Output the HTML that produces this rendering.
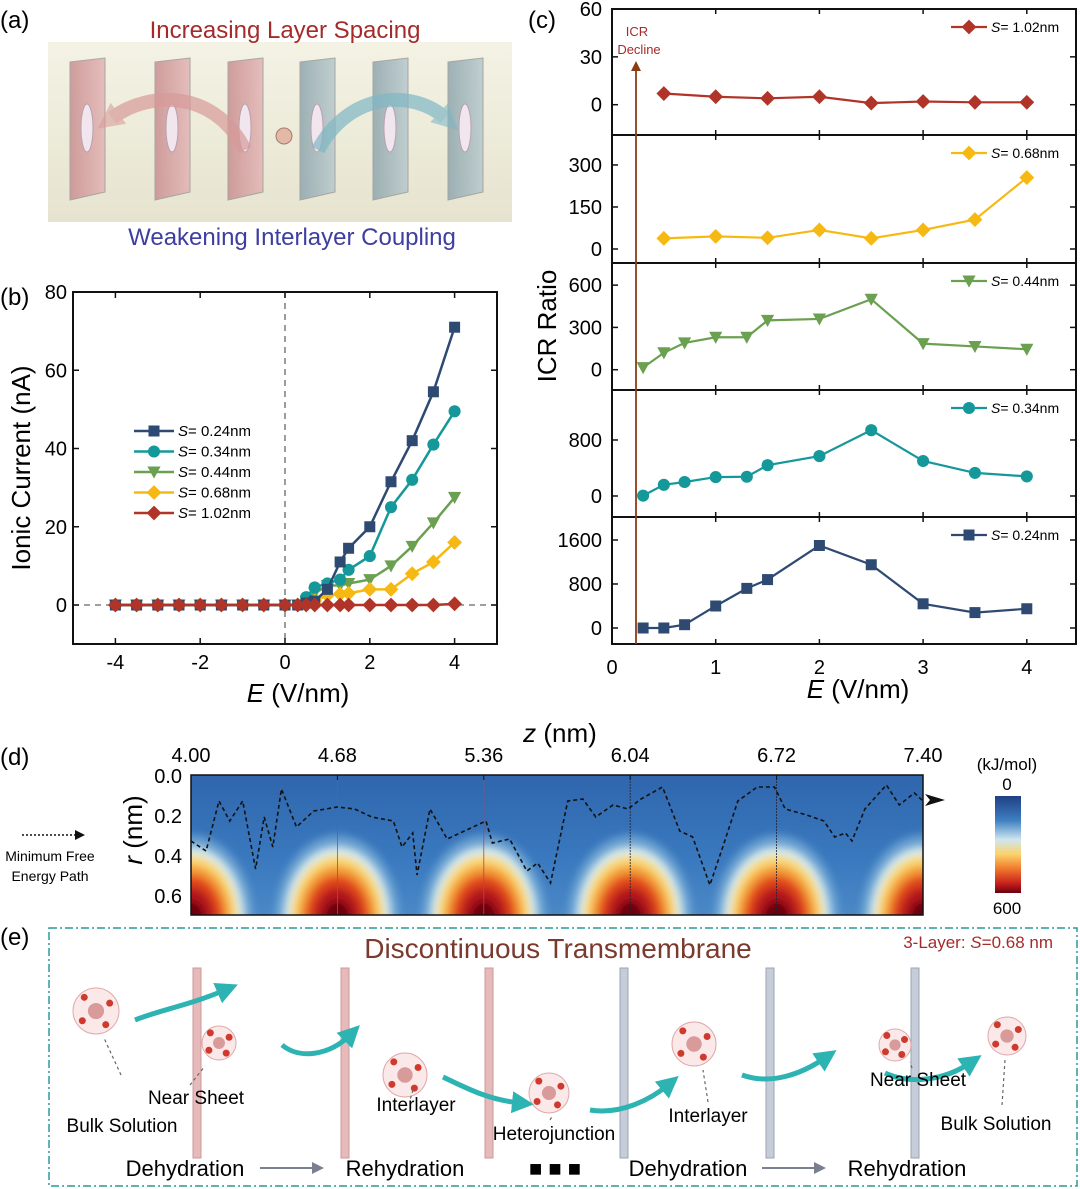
<!DOCTYPE html>
<html><head><meta charset="utf-8"><style>
body{margin:0;background:#fff;}
svg{display:block;font-family:"Liberation Sans",sans-serif;}
</style></head><body>
<svg id="fig" width="1080" height="1189" viewBox="0 0 1080 1189" xmlns="http://www.w3.org/2000/svg">
<defs>
<linearGradient id="bgA" x1="0" y1="0" x2="0" y2="1"><stop offset="0" stop-color="#f4f2e4"/><stop offset="1" stop-color="#e6e4cf"/></linearGradient>
<linearGradient id="pinkP" x1="0" y1="0" x2="1" y2="0"><stop offset="0" stop-color="#c98f90"/><stop offset="1" stop-color="#e3b5b5"/></linearGradient>
<linearGradient id="blueP" x1="0" y1="0" x2="1" y2="0"><stop offset="0" stop-color="#8fa6ad"/><stop offset="1" stop-color="#b8c9cd"/></linearGradient>
<linearGradient id="heatBg" x1="0" y1="0" x2="0" y2="1"><stop offset="0" stop-color="#2f66ad"/><stop offset="0.6" stop-color="#3a79bf"/><stop offset="1" stop-color="#4a88c6"/></linearGradient>
<linearGradient id="cbar" x1="0" y1="0" x2="0" y2="1"><stop offset="0" stop-color="#1f3f85"/><stop offset="0.25" stop-color="#3d7fc0"/><stop offset="0.45" stop-color="#cfe6f0"/><stop offset="0.6" stop-color="#fbd36a"/><stop offset="0.75" stop-color="#f0792c"/><stop offset="0.9" stop-color="#c8211c"/><stop offset="1" stop-color="#6b0010"/></linearGradient>
<filter id="soft" x="-30%" y="-30%" width="160%" height="160%"><feGaussianBlur stdDeviation="4"/></filter>
<clipPath id="hclip"><rect x="191" y="775" width="732" height="140"/></clipPath>
<marker id="arrHead" markerUnits="userSpaceOnUse" markerWidth="10" markerHeight="10" refX="5" refY="5" orient="auto"><path d="M0,0 L10,5 L0,10 Z" fill="#111"/></marker>
<marker id="brownHead" markerUnits="userSpaceOnUse" markerWidth="10" markerHeight="10" refX="5" refY="5" orient="auto"><path d="M0,0 L10,5 L0,10 Z" fill="#8a3d12"/></marker>
<marker id="greyHead" markerUnits="userSpaceOnUse" markerWidth="12" markerHeight="12" refX="6" refY="6" orient="auto"><path d="M0,0 L12,6 L0,12 Z" fill="#7a8090"/></marker>
<marker id="tealHead" markerUnits="userSpaceOnUse" markerWidth="22" markerHeight="22" refX="8" refY="11" orient="auto"><path d="M0,0 L22,11 L0,22 Z" fill="#2eb3b3"/></marker>
<marker id="pinkHead" markerUnits="userSpaceOnUse" markerWidth="26" markerHeight="26" refX="8" refY="13" orient="auto"><path d="M0,0 L26,13 L0,26 Z" fill="#d89a9a" opacity="0.8"/></marker>
<marker id="blueHead" markerUnits="userSpaceOnUse" markerWidth="26" markerHeight="26" refX="8" refY="13" orient="auto"><path d="M0,0 L26,13 L0,26 Z" fill="#7fb7c4" opacity="0.8"/></marker>
</defs>

<text x="0" y="28" font-size="24">(a)</text>
<text x="0" y="305" font-size="24">(b)</text>
<text x="528" y="28" font-size="24">(c)</text>
<text x="0" y="765" font-size="24">(d)</text>
<text x="0" y="945" font-size="24">(e)</text>

<g>
<rect x="48" y="42" width="464" height="180" fill="url(#bgA)"/>
<g id="sheetsA"></g>
<path d="M245,150 C215,90 150,90 112,118" fill="none" stroke="#d89a9a" stroke-width="14" opacity="0.7" marker-end="url(#pinkHead)"/>
<path d="M318,150 C350,90 415,90 445,118" fill="none" stroke="#7fb7c4" stroke-width="14" opacity="0.7" marker-end="url(#blueHead)"/>
<circle cx="284" cy="136" r="8" fill="#e3b8a6" stroke="#a87a6c"/>
<text x="285" y="38" font-size="24" fill="#a52b2b" text-anchor="middle">Increasing Layer Spacing</text>
<text x="292" y="245" font-size="24" fill="#3e3ea0" text-anchor="middle">Weakening Interlayer Coupling</text>
</g>

<g id="panelB"></g>
<g id="panelC"></g>
<g id="panelD"></g>

<g>
<rect x="49" y="928" width="1028" height="258" fill="none" stroke="#2a9a9a" stroke-width="1.5" stroke-dasharray="8,3,2,3"/>
<text x="558" y="958" font-size="28" fill="#7a3a2e" text-anchor="middle">Discontinuous Transmembrane</text>
<text x="1053" y="948" font-size="17" fill="#a52b2b" text-anchor="end">3-Layer: <tspan font-style="italic">S</tspan>=0.68 nm</text>
<g id="sheetsE"></g>
<text x="122" y="1132" font-size="19" text-anchor="middle">Bulk Solution</text>
<text x="196" y="1104" font-size="19" text-anchor="middle">Near Sheet</text>
<text x="416" y="1111" font-size="19" text-anchor="middle">Interlayer</text>
<text x="554" y="1140" font-size="19" text-anchor="middle">Heterojunction</text>
<text x="708" y="1122" font-size="19" text-anchor="middle">Interlayer</text>
<text x="918" y="1086" font-size="19" text-anchor="middle">Near Sheet</text>
<text x="996" y="1130" font-size="19" text-anchor="middle">Bulk Solution</text>
<text x="185" y="1176" font-size="22" text-anchor="middle">Dehydration</text>
<line x1="260" y1="1168" x2="318" y2="1168" stroke="#7a8090" stroke-width="2" marker-end="url(#greyHead)"/>
<text x="405" y="1176" font-size="22" text-anchor="middle">Rehydration</text>
<text x="555" y="1176" font-size="22" text-anchor="middle" font-weight="bold">■ ■ ■</text>
<text x="688" y="1176" font-size="22" text-anchor="middle">Dehydration</text>
<line x1="762" y1="1168" x2="820" y2="1168" stroke="#7a8090" stroke-width="2" marker-end="url(#greyHead)"/>
<text x="907" y="1176" font-size="22" text-anchor="middle">Rehydration</text>
</g>
</svg>
<script>
const NS='http://www.w3.org/2000/svg';
function mk(tag,attrs,parent){const e=document.createElementNS(NS,tag);for(const k in attrs)e.setAttribute(k,attrs[k]);parent.appendChild(e);return e;}

// ===== Panel b data =====
const bX=[-4,-3.5,-3,-2.5,-2,-1.5,-1,-0.5,0,0.3,0.5,0.7,1,1.3,1.5,2,2.5,3,3.5,4];
const bS024=[0,0,0,0,0,0,0,0,0,0,0.5,1,4,11,14.5,20,31.5,42,54.5,71];
const bS034=[0,0,0,0,0,0,0,0,0,0,2,4.5,5.5,6.5,9,12.5,25,32,41,49.5];
const bS044=[0,0,0,0,0,0,0,0,0,0,1,3,5,5,5.5,6.5,10,15,21,27.5];
const bS068=[0,0,0,0,0,0,0,0,0,0,1,1,2.5,2.8,3,4,4,8,11,16];
const bS102=[0,0,0,0,0,0,0,0,0,0,0,0,0,0,0,0,0,0,0,0.3];
const bXTicks=[-4,-2,0,2,4];
const bYTicks=[0,20,40,60,80];
const bNames=['S= 0.24nm','S= 0.34nm','S= 0.44nm','S= 0.68nm','S= 1.02nm'];

// ===== Panel c data =====
const cX8=[0.5,1,1.5,2,2.5,3,3.5,4];
const cX11=[0.3,0.5,0.7,1,1.3,1.5,2,2.5,3,3.5,4];
const c102=[7,5,4,5,1,2,1.5,1.5];
const c068=[38,45,40,68,38,68,105,255];
const c044=[15,120,190,230,230,350,360,500,185,165,145];
const c034=[5,160,200,270,275,440,570,940,500,330,280];
const c024=[0,0,60,400,720,880,1500,1150,440,280,350];
const cXTicks=[0,1,2,3,4];

// ===== Panel d data =====
const dZTicks=['4.00','4.68','5.36','6.04','6.72','7.40'];
const dRTicks=['0.0','0.2','0.4','0.6'];
const pathZ=[4.00,4.07,4.13,4.18,4.24,4.30,4.34,4.38,4.42,4.49,4.57,4.68,4.76,4.84,4.94,4.98,5.03,5.05,5.11,5.19,5.29,5.37,5.40,5.48,5.56,5.61,5.67,5.75,5.82,5.88,5.96,6.03,6.09,6.19,6.27,6.33,6.41,6.47,6.54,6.63,6.71,6.76,6.86,6.94,6.99,7.04,7.07,7.13,7.23,7.29,7.36,7.40];
const pathR=[0.33,0.38,0.13,0.23,0.13,0.47,0.21,0.36,0.07,0.26,0.18,0.16,0.17,0.21,0.23,0.36,0.29,0.50,0.17,0.32,0.27,0.23,0.34,0.32,0.48,0.44,0.54,0.13,0.12,0.21,0.15,0.17,0.12,0.06,0.28,0.31,0.55,0.36,0.13,0.06,0.06,0.17,0.20,0.23,0.31,0.29,0.33,0.17,0.05,0.15,0.09,0.13];

const colors={s024:'#2e4a72',s034:'#15989a',s044:'#6aa050',s068:'#f6b913',s102:'#b03428'};

function marker(g,shape,x,y,col,sz){
  let e;
  if(shape==='square'){e=mk('rect',{x:x-sz,y:y-sz,width:2*sz,height:2*sz,fill:col},g);}
  else if(shape==='circle'){e=mk('circle',{cx:x,cy:y,r:sz*1.1,fill:col},g);}
  else if(shape==='tri'){e=mk('path',{d:`M${x-sz*1.2},${y-sz} L${x+sz*1.2},${y-sz} L${x},${y+sz*1.2} Z`,fill:col},g);}
  else {e=mk('path',{d:`M${x},${y-sz*1.35} L${x+sz*1.35},${y} L${x},${y+sz*1.35} L${x-sz*1.35},${y} Z`,fill:col},g);}
  
  
  return e;
}

// ===== Panel b =====
(function(){
  const g=document.getElementById('panelB');
  const L=73,R=497,T=292,B=644;
  const xs=v=>L+(v+5)/10*(R-L);
  const yS=v=>605-v*(605-292)/80;
  const fr=mk('rect',{x:L,y:T,width:R-L,height:B-T,fill:'none',stroke:'#111','stroke-width':2},g);
  
  const v0=mk('line',{x1:xs(0),y1:T,x2:xs(0),y2:B,stroke:'#666','stroke-dasharray':'6,5','stroke-width':1.3},g);
  
  const h0=mk('line',{x1:L,y1:yS(0),x2:R,y2:yS(0),stroke:'#666','stroke-dasharray':'6,5','stroke-width':1.3},g);
  
  bXTicks.forEach(t=>{
    mk('line',{x1:xs(t),y1:B,x2:xs(t),y2:B-6,stroke:'#111','stroke-width':1.5},g);
    mk('line',{x1:xs(t),y1:T,x2:xs(t),y2:T+6,stroke:'#111','stroke-width':1.5},g);
    const tx=mk('text',{x:xs(t),y:B+25,'font-size':20,'text-anchor':'middle'},g);tx.textContent=t;
    
  });
  bYTicks.forEach(t=>{
    mk('line',{x1:L,y1:yS(t),x2:L+6,y2:yS(t),stroke:'#111','stroke-width':1.5},g);
    mk('line',{x1:R,y1:yS(t),x2:R-6,y2:yS(t),stroke:'#111','stroke-width':1.5},g);
    const tx=mk('text',{x:L-6,y:yS(t)+7,'font-size':20,'text-anchor':'end'},g);tx.textContent=t;
    
  });
  const yt=mk('text',{x:0,y:0,'font-size':26,'text-anchor':'middle',transform:`translate(30,468) rotate(-90)`},g);yt.textContent='Ionic Current (nA)';
  
  const xt=mk('text',{x:298,y:702,'font-size':26,'text-anchor':'middle'},g);xt.innerHTML='<tspan font-style="italic">E</tspan> (V/nm)';
  
  const series=[[bS044,colors.s044,'tri'],[bS068,colors.s068,'diamond'],[bS034,colors.s034,'circle'],[bS024,colors.s024,'square'],[bS102,colors.s102,'diamond']];
  series.forEach(([ys_,col,sh])=>{
    const sg=mk('g',{},g);
    const pl=mk('polyline',{points:bX.map((x,i)=>xs(x)+','+yS(ys_[i])).join(' '),fill:'none',stroke:col,'stroke-width':2.5},sg);
    
    bX.forEach((x,i)=>marker(sg,sh,xs(x),yS(ys_[i]),col,5.5));
  });
  const lc=[colors.s024,colors.s034,colors.s044,colors.s068,colors.s102];
  const ls=['square','circle','tri','diamond','diamond'];
  const lg=mk('g',{},g);
  bNames.forEach((n,i)=>{
    const y=431+i*20.5;
    mk('line',{x1:134,y1:y,x2:174,y2:y,stroke:lc[i],'stroke-width':2.5},lg);
    marker(lg,ls[i],154,y,lc[i],5.5);
    const t=mk('text',{x:178,y:y+5,'font-size':15},lg);t.innerHTML='<tspan font-style="italic">S</tspan>'+n.slice(1);
    
  });
})();

// ===== Panel c =====
(function(){
  const g=document.getElementById('panelC');
  const L=612,R=1076;
  const xs=v=>L+v*103.7;
  const panels=[
    {top:9,bot:135,min:-19,max:60,ticks:[0,30,60],xv:cX8,yv:c102,col:colors.s102,sh:'diamond',name:'S= 1.02nm'},
    {top:135,bot:263,min:-50,max:407,ticks:[0,150,300],xv:cX8,yv:c068,col:colors.s068,sh:'diamond',name:'S= 0.68nm'},
    {top:263,bot:390,min:-144,max:757,ticks:[0,300,600],xv:cX11,yv:c044,col:colors.s044,sh:'tri',name:'S= 0.44nm'},
    {top:390,bot:517,min:-300,max:1514,ticks:[0,800],xv:cX11,yv:c034,col:colors.s034,sh:'circle',name:'S= 0.34nm'},
    {top:517,bot:644,min:-291,max:2018,ticks:[0,800,1600],xv:cX11,yv:c024,col:colors.s024,sh:'square',name:'S= 0.24nm'}
  ];
  panels.forEach((p,pi)=>{
    const sg=mk('g',{},g);
    const ys=v=>p.bot-(v-p.min)/(p.max-p.min)*(p.bot-p.top);
    mk('rect',{x:L,y:p.top,width:R-L,height:p.bot-p.top,fill:'none',stroke:'#111','stroke-width':2},sg);
    p.ticks.forEach(t=>{
      mk('line',{x1:L,y1:ys(t),x2:L+6,y2:ys(t),stroke:'#111','stroke-width':1.5},sg);
      mk('line',{x1:R,y1:ys(t),x2:R-6,y2:ys(t),stroke:'#111','stroke-width':1.5},sg);
      const tx=mk('text',{x:L-10,y:ys(t)+7,'font-size':20,'text-anchor':'end'},sg);tx.textContent=t;
      
    });
    cXTicks.forEach(t=>{mk('line',{x1:xs(t),y1:p.top,x2:xs(t),y2:p.top+5,stroke:'#111','stroke-width':1.5},sg);mk('line',{x1:xs(t),y1:p.bot,x2:xs(t),y2:p.bot-5,stroke:'#111','stroke-width':1.5},sg);});
    const pl=mk('polyline',{points:p.xv.map((x,i)=>xs(x)+','+ys(p.yv[i])).join(' '),fill:'none',stroke:p.col,'stroke-width':2.2},sg);
    
    p.xv.forEach((x,i)=>marker(sg,p.sh,xs(x),ys(p.yv[i]),p.col,5.5));
    const ly=p.top+18;
    mk('line',{x1:951,y1:ly,x2:987,y2:ly,stroke:p.col,'stroke-width':2.2},sg);
    marker(sg,p.sh,969,ly,p.col,5.5);
    const lt=mk('text',{x:991,y:ly+5,'font-size':14},sg);lt.innerHTML='<tspan font-style="italic">S</tspan>'+p.name.slice(1);
    
  });
  cXTicks.forEach(t=>{
    const tx=mk('text',{x:xs(t),y:674,'font-size':20,'text-anchor':'middle'},g);tx.textContent=t;
    
  });
  const xt=mk('text',{x:858,y:698,'font-size':26,'text-anchor':'middle'},g);xt.innerHTML='<tspan font-style="italic">E</tspan> (V/nm)';
  
  const yt=mk('text',{x:0,y:0,'font-size':26,'text-anchor':'middle',transform:'translate(556,326) rotate(-90)'},g);yt.textContent='ICR Ratio';
  
  const ar=mk('line',{x1:636,y1:644,x2:636,y2:66,stroke:'#8a3d12','stroke-width':1.8,'marker-end':'url(#brownHead)'},g);
  
  const t1=mk('text',{x:637,y:36,'font-size':13,fill:'#a52b2b','text-anchor':'middle'},g);t1.textContent='ICR';
  
  const t2=mk('text',{x:639,y:54,'font-size':13,fill:'#a52b2b','text-anchor':'middle'},g);t2.textContent='Decline';
  
})();

// ===== Panel d =====
(function(){
  const g=document.getElementById('panelD');
  const L=191,R=923,T=775,B=915;
  const zs=v=>L+(v-4)/3.4*(R-L);
  const rs=v=>T+v/0.7*(B-T);
  const bg=mk('rect',{x:L,y:T,width:R-L,height:B-T,fill:'url(#heatBg)'},g);
  
  const hg=mk('g',{'clip-path':'url(#hclip)'},g);
  
  
  const layers=[[1.0,'#7fb3da',0.7],[0.86,'#d6ecef',1],[0.76,'#f9d873',1],[0.64,'#f39a35',1],[0.52,'#e0451f',1],[0.38,'#b3141a',1],[0.22,'#6a0410',1]];
  dZTicks.forEach(t=>{
    const hs=mk('g',{filter:'url(#soft)'},hg);
    
    
    layers.forEach(([s,c,o])=>{mk('ellipse',{cx:zs(+t),cy:B+4,rx:62*s,ry:84*s,fill:c,opacity:o},hs);});
  });
  dZTicks.forEach(t=>{
    const ln=mk('line',{x1:zs(+t),y1:T,x2:zs(+t),y2:B,stroke:(+t<6?'#c0404a':'#223'),'stroke-width':0.8,'stroke-dasharray':(+t<6?'':'2,1')},hg);
    
  });
  mk('rect',{x:L,y:T,width:R-L,height:B-T,fill:'none',stroke:'#111','stroke-width':1.5},g);
  dZTicks.forEach((t,i)=>{
    const tx=mk('text',{x:zs(+t),y:762,'font-size':20,'text-anchor':'middle'},g);tx.textContent=t;
    
    mk('line',{x1:zs(+t),y1:T,x2:zs(+t),y2:T+5,stroke:'#111'},g);
  });
  dRTicks.forEach(t=>{
    const tx=mk('text',{x:182,y:rs(+t)+8,'font-size':20,'text-anchor':'end'},g);tx.textContent=t;
    
  });
  const zt=mk('text',{x:560,y:742,'font-size':26,'text-anchor':'middle'},g);zt.innerHTML='<tspan font-style="italic">z</tspan> (nm)';
  
  const rt=mk('text',{x:0,y:0,'font-size':26,'text-anchor':'middle',transform:'translate(142,830) rotate(-90)'},g);rt.innerHTML='<tspan font-style="italic">r</tspan> (nm)';
  
  const pth=mk('polyline',{points:pathZ.map((z,i)=>zs(z)+','+rs(pathR[i])).join(' '),fill:'none',stroke:'#111','stroke-width':1.6,'stroke-dasharray':'4,3'},g);
  
  const ah=mk('path',{d:'M925,794 L945,800 L925,806 L930,800 Z',fill:'#111'},g);
  
  const lgl=mk('line',{x1:22,y1:835,x2:80,y2:835,stroke:'#111','stroke-width':1.6,'stroke-dasharray':'2,2','marker-end':'url(#arrHead)'},g);
  
  const l1=mk('text',{x:50,y:861,'font-size':14,'text-anchor':'middle'},g);l1.textContent='Minimum Free';
  
  const l2=mk('text',{x:50,y:881,'font-size':14,'text-anchor':'middle'},g);l2.textContent='Energy Path';
  
  const cb=mk('rect',{x:995,y:796,width:26,height:97,fill:'url(#cbar)'},g);
  
  const c1=mk('text',{x:1007,y:770,'font-size':17,'text-anchor':'middle'},g);c1.textContent='(kJ/mol)';
  
  const c2=mk('text',{x:1007,y:790,'font-size':17,'text-anchor':'middle'},g);c2.textContent='0';
  
  const c3=mk('text',{x:1007,y:914,'font-size':17,'text-anchor':'middle'},g);c3.textContent='600';
  
})();

// ===== Panel a sheets =====
(function(){
  const g=document.getElementById('sheetsA');
  const xsA=[70,155,228,300,373,448];
  xsA.forEach((x,i)=>{
    const p=mk('path',{d:`M${x},62 L${x+35},58 L${x+35},192 L${x},200 Z`,fill:i<3?'url(#pinkP)':'url(#blueP)',stroke:'#999','stroke-width':1,opacity:0.85},g);
    
    const e=mk('ellipse',{cx:x+17,cy:128,rx:6,ry:24,fill:'#f2e6ee',stroke:'#b8a0b0'},g);
    
  });
})();

// ===== Panel e sheets & ions =====
(function(){
  const g=document.getElementById('sheetsE');
  const xsE=[197,345,489,624,770,915];
  xsE.forEach((x,i)=>{
    const r=mk('rect',{x:x-4,y:968,width:8,height:190,fill:i<3?'#e6b9bb':'#c6ccd8',stroke:i<3?'#c99':'#9aa4b4','stroke-width':1},g);
    
  });
  const ions=[[96,1011,23],[219,1043,17],[405,1075,22],[549,1093,20],[694,1044,22],[895,1045,16],[1007,1036,19]];
  ions.forEach(([x,y,r])=>{
    const c=mk('circle',{cx:x,cy:y,r:r,fill:'#fbe8e8',stroke:'#e0a8a8'},g);
    
    const c2=mk('circle',{cx:x,cy:y,r:r*0.35,fill:'#d99a9a'},g);
    
    [[-0.6,-0.7],[0.7,-0.4],[-0.7,0.5],[0.5,0.7]].forEach(([dx,dy])=>{mk('circle',{cx:x+dx*r*0.85,cy:y+dy*r*0.85,r:3.5,fill:'#d03a2e'},g);});
  });
  const arrows=['M135,1020 C160,1010 190,1005 225,990','M282,1045 C300,1060 330,1055 350,1035','M443,1077 C470,1090 490,1100 520,1103','M590,1110 C620,1115 650,1100 668,1085','M742,1075 C770,1085 800,1075 825,1058','M885,1073 C910,1085 945,1080 970,1063'];
  arrows.forEach(d=>{
    const p=mk('path',{d:d,fill:'none',stroke:'#2eb3b3','stroke-width':5,'marker-end':'url(#tealHead)'},g);
    
  });
  const pointers=[[121,1075,104,1038],[190,1085,205,1066],[413,1090,410,1100],[550,1120,553,1115],[708,1102,703,1070],[1002,1105,1005,1060],[912,1068,910,1062]];
  pointers.forEach(([x1,y1,x2,y2])=>{
    const l=mk('line',{x1,y1,x2,y2,stroke:'#666','stroke-dasharray':'3,3','stroke-width':1.2},g);
    
  });
})();
</script>
</body></html>
